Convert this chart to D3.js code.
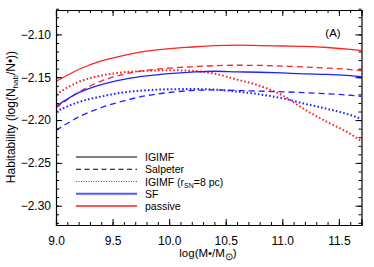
<!DOCTYPE html>
<html>
<head>
<meta charset="utf-8">
<script src="https://cdn.jsdelivr.net/npm/d3@7"></script>
<style>
  body { margin: 0; background: #fff; }
  svg { font-family: "Liberation Sans", Arial, sans-serif; }
  .axis text { font-size: 12px; fill: #000; }
  .axis path, .axis line { stroke: #000; }
</style>
</head>
<body>
<svg width="374" height="267"></svg>
<script>
// stellar mass grid (log M*/Msun)
var mass = [9.0, 9.2, 9.4, 9.6, 9.8, 10.0, 10.2, 10.4, 10.6, 10.8, 11.0, 11.2, 11.4, 11.6, 11.7];

// passive galaxies
var passiveIGIMF    = [-2.155, -2.141, -2.131, -2.1245, -2.1195, -2.1165, -2.1147, -2.1132, -2.1126, -2.1130, -2.1135, -2.114, -2.1153, -2.1175, -2.119];
var passiveSalpeter = [-2.186, -2.1675, -2.1545, -2.1465, -2.142, -2.1393, -2.1378, -2.1365, -2.136, -2.1362, -2.137, -2.138, -2.1394, -2.141, -2.1424];
var passiveRsn      = [-2.170, -2.1555, -2.148, -2.1442, -2.1425, -2.1418, -2.1425, -2.1458, -2.1527, -2.160, -2.171, -2.1878, -2.2025, -2.216, -2.2247];

// star forming galaxies
var sfIGIMF    = [-2.184, -2.168, -2.1585, -2.1525, -2.1485, -2.1458, -2.144, -2.143, -2.1437, -2.1442, -2.145, -2.146, -2.1467, -2.148, -2.1494];
var sfSalpeter = [-2.212, -2.1965, -2.1855, -2.1775, -2.1715, -2.1678, -2.1655, -2.1648, -2.1655, -2.1662, -2.167, -2.168, -2.1694, -2.171, -2.1723];
var sfRsn      = [-2.190, -2.179, -2.1725, -2.1677, -2.1652, -2.164, -2.1638, -2.1644, -2.1668, -2.170, -2.1745, -2.181, -2.187, -2.194, -2.1986];

var xTicks = [9.0, 9.5, 10.0, 10.5, 11.0, 11.5];
var yTicks = [-2.30, -2.25, -2.20, -2.15, -2.10];

var svg = d3.select('svg');

var x = d3.scaleLinear().domain([9.0, 11.7]).range([56, 361.5]),
    y = d3.scaleLinear().domain([-2.3225, -2.0715]).range([225, 10]);

var blue = '#2222ff', red = '#ff2222';

// styles per series
var styles = {
  solid:  { dash: null,  width: 1.3 },
  dashed: { dash: '6,4', width: 1.3 },
  dotted: { dash: '1.6,2.2', width: 2 }
};

var series = [
  { v: passiveIGIMF,    c: red,  s: 'solid' },
  { v: passiveSalpeter, c: red,  s: 'dashed' },
  { v: passiveRsn,      c: red,  s: 'dotted' },
  { v: sfIGIMF,         c: blue, s: 'solid' },
  { v: sfSalpeter,      c: blue, s: 'dashed' },
  { v: sfRsn,           c: blue, s: 'dotted' }
];

var line = d3.line()
  .x(function(d, i) { return x(mass[i]); })
  .y(function(d) { return y(d); })
  .curve(d3.curveMonotoneX);

svg.append('defs').append('clipPath').attr('id', 'clip')
  .append('rect').attr('x', 56).attr('y', 10).attr('width', 305.5).attr('height', 215);

svg.append('g').attr('clip-path', 'url(#clip)')
  .selectAll('path')
  .data(series)
  .enter().append('path')
    .attr('d', function(d) { return line(d.v); })
    .attr('fill', 'none')
    .attr('stroke', function(d) { return d.c; })
    .attr('stroke-width', function(d) { return styles[d.s].width; })
    .attr('stroke-dasharray', function(d) { return styles[d.s].dash; });

// axes: ticks point inward on all four sides
var fmtX = d3.format('.1f'), fmtY = d3.format('.2f');
var xMinor = d3.range(9.0, 11.71, 0.1), yMinor = d3.range(-2.32, -2.069, 0.01);

svg.append('g').attr('class', 'axis')
  .attr('transform', 'translate(0,225)')
  .call(d3.axisBottom(x).tickValues(xMinor).tickSize(-3).tickFormat(''))
  .call(function(g) { g.select('.domain').remove(); });
svg.append('g').attr('class', 'axis')
  .attr('transform', 'translate(0,225)')
  .call(d3.axisBottom(x).tickValues(xTicks).tickSize(-6).tickPadding(11).tickFormat(fmtX));

svg.append('g').attr('class', 'axis')
  .attr('transform', 'translate(0,10)')
  .call(d3.axisTop(x).tickValues(xMinor).tickSize(-3).tickFormat(''))
  .call(function(g) { g.select('.domain').remove(); });
svg.append('g').attr('class', 'axis')
  .attr('transform', 'translate(0,10)')
  .call(d3.axisTop(x).tickValues(xTicks).tickSize(-6).tickFormat(''));

svg.append('g').attr('class', 'axis')
  .attr('transform', 'translate(56,0)')
  .call(d3.axisLeft(y).tickValues(yMinor).tickSize(-3).tickFormat(''))
  .call(function(g) { g.select('.domain').remove(); });
svg.append('g').attr('class', 'axis')
  .attr('transform', 'translate(56,0)')
  .call(d3.axisLeft(y).tickValues(yTicks).tickSize(-6).tickPadding(5).tickFormat(fmtY));

svg.append('g').attr('class', 'axis')
  .attr('transform', 'translate(361.5,0)')
  .call(d3.axisRight(y).tickValues(yMinor).tickSize(-3).tickFormat(''))
  .call(function(g) { g.select('.domain').remove(); });
svg.append('g').attr('class', 'axis')
  .attr('transform', 'translate(361.5,0)')
  .call(d3.axisRight(y).tickValues(yTicks).tickSize(-6).tickFormat(''));

svg.selectAll('.axis .domain').attr('stroke-width', 1.2);

// axis titles
var xt = svg.append('text').attr('x', 208).attr('y', 257)
  .attr('text-anchor', 'middle').attr('font-size', 11.5);
xt.append('tspan').text('log(M\u2022/M');
xt.append('tspan').attr('dy', 3).attr('font-size', 9.5).text('\u2299');
xt.append('tspan').attr('dy', -3).text(')');

var yt = svg.append('text')
  .attr('transform', 'translate(15,117) rotate(-90)')
  .attr('text-anchor', 'middle').attr('font-size', 12);
yt.append('tspan').text('Habitability  (log(N');
yt.append('tspan').attr('dy', 3).attr('font-size', 8).text('hab');
yt.append('tspan').attr('dy', -3).text('/N\u2022))');

svg.append('text').attr('x', 333).attr('y', 37)
  .attr('text-anchor', 'middle').attr('font-size', 11.5).text('(A)');

// legend
var legendNames = ['IGIMF', 'Salpeter', 'IGIMF', 'SF', 'passive'];
var legendRows = [
  { c: '#000', dash: null, w: 1.2 },
  { c: '#000', dash: '5,3.5', w: 1.2 },
  { c: '#555', dash: '1,1.5', w: 1 },
  { c: '#5555ff', dash: null, w: 2 },
  { c: '#ff5555', dash: null, w: 2 }
];
var ly = d3.scalePoint().domain(d3.range(5)).range([157, 206]);

var lg = svg.append('g').selectAll('g')
  .data(legendRows)
  .enter().append('g')
    .attr('transform', function(d, i) { return 'translate(0,' + ly(i) + ')'; });
lg.append('line')
  .attr('x1', 76).attr('x2', 137)
  .attr('stroke', function(d) { return d.c; })
  .attr('stroke-width', function(d) { return d.w; })
  .attr('stroke-dasharray', function(d) { return d.dash; });
var lt = lg.append('text').attr('x', 145).attr('y', 4).attr('font-size', 10.5)
  .text(function(d, i) { return legendNames[i]; });

var rsn = lt.filter(function(d, i) { return i === 2; });
rsn.append('tspan').text('  (r');
rsn.append('tspan').attr('dy', 2).attr('font-size', 7).text('SN');
rsn.append('tspan').attr('dy', -2).text('=8  pc)');
</script>
</body>
</html>
